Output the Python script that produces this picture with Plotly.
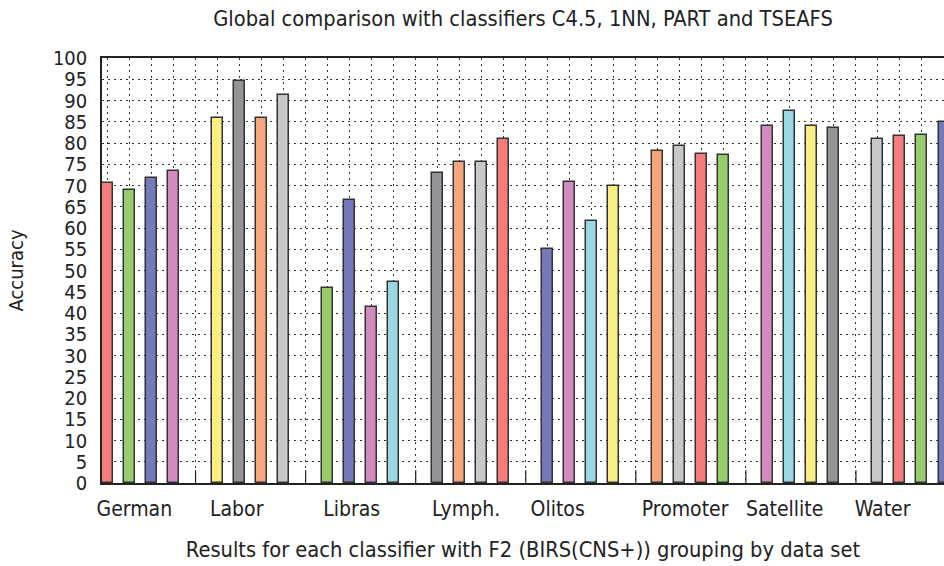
import plotly.graph_objects as go

# ---- data ----
datasets = ["German", "Labor", "Libras", "Lymph.", "Olitos", "Promoter", "Satellite", "Water"]
classifiers = ["C4.5", "1NN", "PART", "TSEAFS"]
c45 = [70.5, 85.8, 46.0, 72.9, 55.0, 78.2, 84.1, 80.9]
nn1 = [68.9, 94.7, 66.6, 75.5, 70.8, 79.2, 87.5, 81.6]
part = [71.7, 85.8, 41.3, 75.5, 61.6, 77.3, 84.1, 82.0]
tseafs = [73.3, 91.4, 47.2, 80.9, 69.9, 77.1, 83.6, 84.9]
y_ticks = list(range(0, 101, 5))

# ---- style ----
palette = ["#f47c7c", "#97cc6e", "#7579b9", "#d38abe", "#9ad9e4",
           "#f8f085", "#929497", "#f7a57c", "#c7c8ca"]
FONT = "DejaVu Sans Condensed, DejaVu Sans, sans-serif"
TXT = "#222222"
slots_per_group = len(classifiers) + 1
label_shift = [-0.28, -0.63, -0.41, -0.21, -1.05, -0.26, -0.74, -1.29]

series = [c45, nn1, part, tseafs]
xs, ys, cols = [], [], []
for g in range(len(datasets)):
    for k in range(len(classifiers)):
        slot = g * slots_per_group + k
        xs.append(slot)
        ys.append(series[k][g])
        cols.append(palette[slot % len(palette)])

fig = go.Figure()
fig.add_trace(go.Bar(
    x=xs, y=ys, width=0.5,
    marker=dict(color=cols, line=dict(color="#333333", width=1.5)),
    showlegend=False, hoverinfo="y",
))

centers = [g * slots_per_group + (len(classifiers) - 1) / 2 + label_shift[g] for g in range(len(datasets))]
gap_slots = [g * slots_per_group + len(classifiers) for g in range(len(datasets) - 1)]

for gx in gap_slots:
    fig.add_shape(type="line", xref="x", yref="y", x0=gx, x1=gx, y0=0, y1=3,
                  line=dict(color=TXT, width=1.2))

fig.update_layout(
    width=944, height=566,
    margin=dict(l=102, r=0, t=58, b=83),
    paper_bgcolor="white", plot_bgcolor="white",
    font=dict(family=FONT, color=TXT),
    title=dict(text="Global comparison with classifiers C4.5, 1NN, PART and TSEAFS",
               x=0.5, xref="paper", xanchor="center", y=0.968, yanchor="middle",
               font=dict(size=21.7, family=FONT, color=TXT)),
    xaxis=dict(
        range=[-0.25, 38.0],
        tickmode="array", tickvals=centers, ticktext=datasets,
        ticks="", showgrid=False, zeroline=False,
        showline=True, mirror=True, linecolor=TXT, linewidth=1.5,
        tickfont=dict(size=21, family=FONT, color=TXT),
        ticklabelstandoff=6,
        minor=dict(tick0=0, dtick=1, showgrid=True, gridcolor="#333333",
                   gridwidth=1, griddash="2px,4px", ticks=""),
        title=dict(text="Results for each classifier with F2 (BIRS(CNS+)) grouping by data set",
                   font=dict(size=21.7, family=FONT, color=TXT), standoff=22),
        automargin=False,
    ),
    yaxis=dict(
        range=[0, 100], tickmode="array", tickvals=y_ticks,
        ticktext=[str(v) for v in y_ticks],
        showgrid=True, gridcolor="#333333", gridwidth=1, griddash="2px,4px",
        zeroline=False, showline=True, mirror=False, linecolor=TXT, linewidth=1.5,
        ticks="", tickfont=dict(size=20, family=FONT, color=TXT),
        ticklabelstandoff=9,
        title=dict(text="Accuracy", font=dict(size=20, family=FONT, color=TXT),
                   standoff=24),
        automargin=False,
    ),
    bargap=0,
)

fig.write_html("out.html", config={"displayModeBar": False},
               post_script="document.body.style.margin='0';")
